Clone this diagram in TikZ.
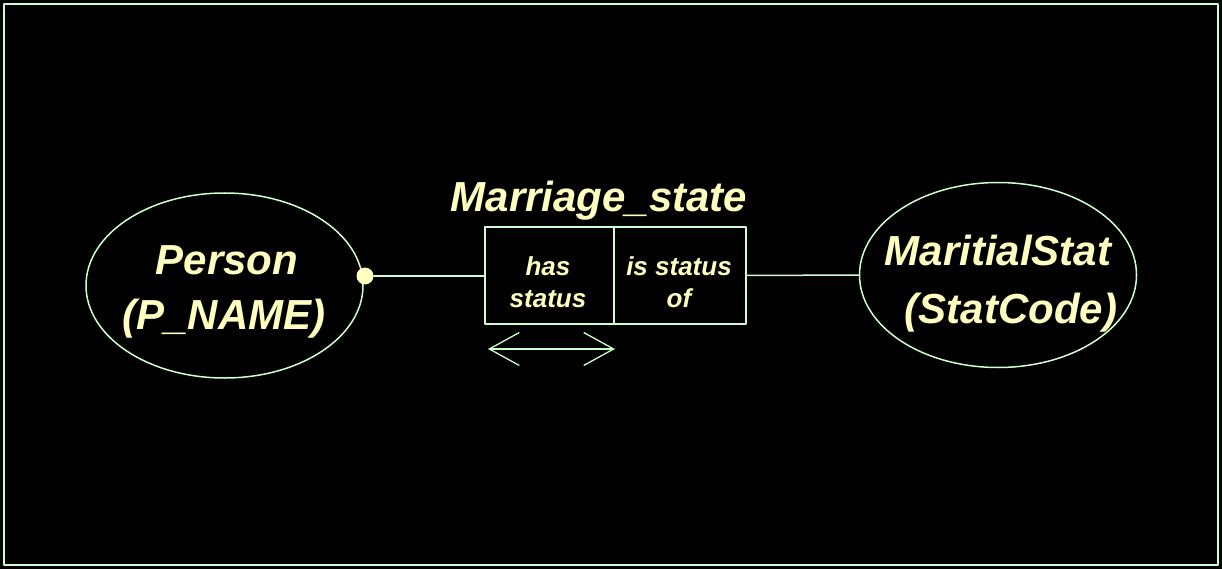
\documentclass[tikz,border=0pt]{standalone}
\usepackage{fontspec}
\setmainfont{Liberation Sans}
\usetikzlibrary{shapes.geometric,arrows.meta}
\definecolor{Lline}{RGB}{204,255,204}
\definecolor{Ltext}{RGB}{255,255,192}

\begin{document}
\begin{tikzpicture}[x=1pt,y=-1pt,line cap=round,line join=round]
\tikzset{
  entity/.style={ellipse,draw=Lline,line width=1.5pt,minimum width=277pt,minimum height=185pt,inner sep=0pt},
  biglbl/.style={text=Ltext,font=\bfseries\itshape\fontsize{42}{48}\selectfont,inner sep=0pt},
  rolebox/.style={rectangle,draw=Lline,line width=1.5pt,minimum height=97pt,inner sep=0pt},
  rolelbl/.style={text=Ltext,align=center,inner sep=0pt,font=\bfseries\itshape\fontsize{26}{32}\selectfont},
  conn/.style={draw=Lline,line width=1.5pt},
}
\fill[black] (0,0) rectangle (1222,569);
\path[use as bounding box] (0,0) rectangle (1222,569);
\draw[Lline,line width=2pt] (4,4) rectangle (1218,565);
% entities
\node[entity] (person) at (224.5,285.5) {};
\node[biglbl] (personname) at (227,260) {Person};
\node[biglbl] (personkey) at (224,319) {(P\_NAME)};
\node[entity] (stat) at (998,275) {};
\node[biglbl] (statname) at (998,250) {MaritialStat};
\node[biglbl] (statkey) at (1011,313) {(StatCode)};
% fact type
\node[rolebox,minimum width=129pt] (has) at (549.5,275.5) {};
\node[rolebox,minimum width=132pt] (of) at (680,275.5) {};
\node[rolelbl] (hastext) at (548,282) {has\\status};
\node[rolelbl] (oftext) at (679,282) {is status\\of};
\node[biglbl] (factname) at (599,201) {Marriage\_state};
\node[circle,fill=Ltext,minimum size=17pt,inner sep=0pt] (dot) at (365,276) {};
\draw[conn] (dot.east) -- (dot.east -| has.west);
\draw[conn] (of.east) -- (stat.west);
% uniqueness
\coordinate (uniql) at (488,349);
\coordinate (uniqr) at (615,349);
\draw[Lline,line width=1.3pt,{Straight Barb[length=30pt,width=33pt]}-{Straight Barb[length=30pt,width=33pt]}] (uniql) -- (uniqr);
\end{tikzpicture}
\end{document}
